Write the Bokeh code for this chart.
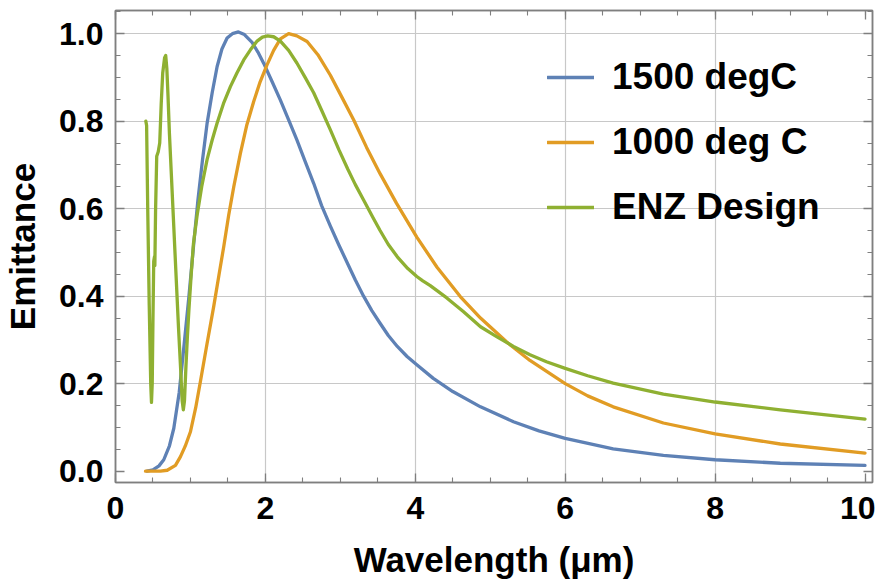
from bokeh.plotting import figure
from bokeh.models import (SingleIntervalTicker, FixedTicker, LinearAxis, Range1d,
                          Legend, LegendItem, NumeralTickFormatter, CustomJSTickFormatter)
from bokeh.embed import file_html
from bokeh.resources import INLINE

# ---- data ----
wl_1500 = [0.42, 0.50, 0.58, 0.644, 0.72, 0.778, 0.85, 0.91, 0.98, 1.044, 1.10, 1.16,
           1.222, 1.29, 1.356, 1.42, 1.489, 1.56, 1.64, 1.72, 1.822, 1.90, 1.978, 2.09,
           2.2, 2.31, 2.42, 2.53, 2.644, 2.75, 2.867, 2.98, 3.09, 3.2, 3.31, 3.42, 3.53,
           3.64, 3.76, 3.89, 4.02, 4.24, 4.5, 4.87, 5.31, 5.65, 6.0, 6.64, 7.31, 8.0,
           8.87, 10.0]
em_1500 = [0.0, 0.003, 0.012, 0.026, 0.058, 0.098, 0.18, 0.28, 0.40, 0.52, 0.62, 0.71,
           0.795, 0.865, 0.925, 0.965, 0.99, 1.0, 1.004, 0.998, 0.98, 0.958, 0.932, 0.89,
           0.848, 0.803, 0.757, 0.708, 0.658, 0.607, 0.56, 0.517, 0.477, 0.437, 0.40, 0.367,
           0.338, 0.31, 0.285, 0.262, 0.243, 0.212, 0.182, 0.147, 0.113, 0.092, 0.075,
           0.051, 0.036, 0.026, 0.018, 0.013]

wl_1000 = [0.40, 0.60, 0.69, 0.80, 0.867, 0.93, 1.0, 1.07, 1.133, 1.22, 1.31, 1.38,
           1.444, 1.51, 1.578, 1.667, 1.75, 1.844, 1.93, 2.02, 2.11, 2.2, 2.31, 2.42,
           2.556, 2.70, 2.867, 3.02, 3.18, 3.35, 3.53, 3.75, 4.02, 4.29, 4.6, 4.87, 5.22,
           5.53, 6.0, 6.3, 6.64, 7.31, 8.0, 8.87, 10.0]
em_1000 = [0.0, 0.0, 0.002, 0.013, 0.033, 0.057, 0.09, 0.145, 0.205, 0.29, 0.376, 0.448,
           0.513, 0.585, 0.65, 0.727, 0.79, 0.845, 0.89, 0.928, 0.962, 0.988, 1.0, 0.995,
           0.982, 0.952, 0.905, 0.855, 0.802, 0.74, 0.68, 0.612, 0.535, 0.466, 0.399, 0.35,
           0.295, 0.253, 0.20, 0.172, 0.147, 0.11, 0.085, 0.062, 0.041]

wl_enz = [0.405, 0.415, 0.43, 0.45, 0.47, 0.48, 0.49, 0.50, 0.51, 0.52, 0.525, 0.535,
          0.55, 0.57, 0.59, 0.61, 0.63, 0.655, 0.67, 0.685, 0.70, 0.72, 0.75, 0.78,
          0.81, 0.84, 0.87, 0.89, 0.905, 0.92, 0.94, 0.96, 0.98, 1.01, 1.04, 1.089,
          1.15, 1.222, 1.29, 1.356, 1.44, 1.533, 1.62, 1.711, 1.80, 1.889, 1.96, 2.03,
          2.11, 2.2, 2.31, 2.42, 2.53, 2.644, 2.75, 2.867, 2.98, 3.1, 3.2, 3.31, 3.44,
          3.53, 3.64, 3.76, 3.9, 4.02, 4.1, 4.2, 4.42, 4.64, 4.87, 5.09, 5.31, 5.53,
          5.75, 6.0, 6.3, 6.64, 7.31, 8.0, 8.87, 10.0]
em_enz = [0.80, 0.79, 0.60, 0.38, 0.20, 0.157, 0.20, 0.35, 0.48, 0.49, 0.47, 0.60,
          0.72, 0.73, 0.75, 0.84, 0.91, 0.945, 0.95, 0.92, 0.86, 0.77, 0.66, 0.55,
          0.44, 0.33, 0.23, 0.16, 0.14, 0.16, 0.24, 0.31, 0.37, 0.45, 0.52, 0.585,
          0.65, 0.712, 0.757, 0.796, 0.84, 0.879, 0.91, 0.94, 0.963, 0.983, 0.992, 0.995,
          0.993, 0.983, 0.962, 0.933, 0.90, 0.865, 0.825, 0.78, 0.735, 0.69, 0.655, 0.62, 0.578,
          0.55, 0.518, 0.49, 0.463, 0.445, 0.435, 0.424, 0.396, 0.365, 0.33, 0.307, 0.285, 0.266,
          0.25, 0.235, 0.218, 0.201, 0.176, 0.158, 0.140, 0.119]

series_labels = ["1500 degC", "1000 deg C", "ENZ Design"]
series_colors = ["#5E81B5", "#E19C24", "#8FB032"]

x_ticks_major = 2
y_ticks_major = 0.2
x_grid = [2, 4, 6, 8]
y_grid = [0.2, 0.4, 0.6, 0.8, 1.0]

FONT = "Liberation Sans"
FRAME_COLOR = "#7f7f7f"

p = figure(frame_width=757, frame_height=472, output_backend="svg", toolbar_location=None,
           x_range=Range1d(0, 10.1), y_range=Range1d(-0.026, 1.053),
           min_border_left=108, min_border_right=3, min_border_top=10,
           min_border_bottom=97, x_axis_label="Wavelength (μm)",
           y_axis_label="Emittance")

renderers = []
for xs, ys, c in zip([wl_1500, wl_1000, wl_enz], [em_1500, em_1000, em_enz], series_colors):
    r = p.line(xs, ys, line_color=c, line_width=3.3, line_join="round", line_cap="round")
    renderers.append(r)

p.outline_line_color = FRAME_COLOR
p.outline_line_width = 1.5
p.background_fill_color = "white"
p.border_fill_color = "white"

p.xgrid.ticker = FixedTicker(ticks=x_grid)
p.ygrid.ticker = FixedTicker(ticks=y_grid)
for g in (p.xgrid, p.ygrid):
    g.grid_line_color = "#c8c8c8"
    g.grid_line_width = 1.2

def style_axis(ax, ticker, labels=True):
    ax.ticker = ticker
    ax.axis_line_color = FRAME_COLOR
    ax.axis_line_width = 1.5
    ax.major_tick_line_color = FRAME_COLOR
    ax.minor_tick_line_color = FRAME_COLOR
    ax.major_tick_line_width = 1.3
    ax.minor_tick_line_width = 1.1
    ax.major_tick_in = 9
    ax.major_tick_out = 0
    ax.minor_tick_in = 5
    ax.minor_tick_out = 0
    if labels:
        ax.major_label_text_font = FONT
        ax.major_label_text_font_style = "bold"
        ax.major_label_text_font_size = "32px"
        ax.major_label_text_color = "black"
        ax.axis_label_text_font = FONT
        ax.axis_label_text_font_style = "bold"
        ax.axis_label_text_font_size = "35px"
        ax.axis_label_text_color = "black"
    else:
        ax.formatter = CustomJSTickFormatter(code="return ''")
        ax.major_label_text_font_size = "1px"
        ax.major_label_standoff = 0
        ax.axis_label = None

xt = lambda: SingleIntervalTicker(interval=x_ticks_major, num_minor_ticks=4)
yt = lambda: SingleIntervalTicker(interval=y_ticks_major, num_minor_ticks=4)

style_axis(p.xaxis[0], xt())
style_axis(p.yaxis[0], yt())
p.xaxis[0].major_label_standoff = 14
p.xaxis[0].axis_label_standoff = 18
p.yaxis[0].major_label_standoff = 12
p.yaxis[0].axis_label_standoff = 14
p.yaxis[0].formatter = NumeralTickFormatter(format="0.0")

top = LinearAxis()
right = LinearAxis()
style_axis(top, xt(), labels=False)
style_axis(right, yt(), labels=False)
p.add_layout(top, "above")
p.add_layout(right, "right")

legend = Legend(items=[LegendItem(label=l, renderers=[r]) for l, r in zip(series_labels, renderers)],
                location=(432, 254))
legend.label_text_font = FONT
legend.label_text_font_style = "bold"
legend.label_text_font_size = "37px"
legend.label_text_color = "black"
legend.glyph_width = 47
legend.glyph_height = 40
legend.label_height = 40
legend.label_standoff = 18
legend.spacing = 23
legend.padding = 0
legend.margin = 0
legend.border_line_color = None
legend.background_fill_alpha = 0
p.add_layout(legend, "center")

open("out.html", "w").write(file_html(p, INLINE))
